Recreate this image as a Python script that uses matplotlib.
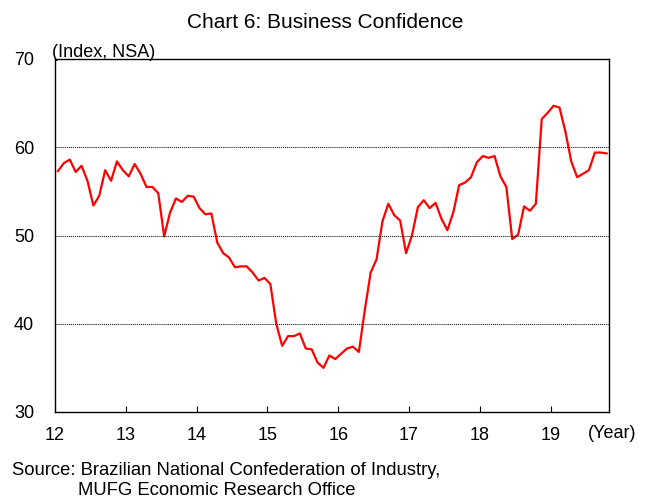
import numpy as np
import matplotlib
matplotlib.use("Agg")
import matplotlib.pyplot as plt

plt.rcParams['font.family'] = ['Liberation Sans', 'DejaVu Sans']

# monthly index, Jan 2012 - Oct 2019
confidence = [
    57.3, 58.2, 58.6, 57.2, 57.9, 56.2, 53.4, 54.5, 57.4, 56.2, 58.4, 57.4,
    56.7, 58.1, 57.0, 55.5, 55.5, 54.8, 49.9, 52.6, 54.2, 53.8, 54.5, 54.4,
    53.1, 52.4, 52.5, 49.2, 48.0, 47.5, 46.4, 46.5, 46.5, 45.8, 44.9, 45.2,
    44.5, 40.0, 37.5, 38.6, 38.6, 38.9, 37.2, 37.1, 35.6, 35.0, 36.4, 36.0,
    36.6, 37.2, 37.4, 36.8, 41.5, 45.8, 47.3, 51.6, 53.6, 52.3, 51.7, 48.0,
    50.0, 53.2, 54.0, 53.1, 53.7, 51.9, 50.6, 52.6, 55.7, 56.0, 56.6, 58.3,
    59.0, 58.8, 59.0, 56.7, 55.5, 49.6, 50.1, 53.3, 52.8, 53.6, 63.2, 63.9,
    64.7, 64.5, 61.8, 58.4, 56.6, 57.0, 57.4, 59.4, 59.4, 59.3,
]
year_labels = ["12", "13", "14", "15", "16", "17", "18", "19"]
y_ticks = [30, 40, 50, 60, 70]

fig = plt.figure(figsize=(6.51, 5.0), dpi=100)
ax = fig.add_axes([0.0845, 0.176, 0.851, 0.706])

months = np.arange(len(confidence))
ax.plot(months, confidence, color="#ff0000", lw=1.6)

ax.set_xlim(-0.5, 93.4)
ax.set_ylim(30, 70)
ax.set_xticks([-0.5 + 12 * k for k in range(len(year_labels))])
ax.set_xticklabels(year_labels)
ax.set_yticks(y_ticks)
ax.tick_params(axis="x", direction="in", length=4, width=0.8, pad=11, labelsize=13)
ax.tick_params(axis="y", direction="in", length=0, pad=15, labelsize=13)

for v in [40, 50, 60]:
    ax.axhline(v, color="black", lw=0.7, ls=(0, (1, 1)))

for sp in ax.spines.values():
    sp.set_linewidth(1.0)
    sp.set_color("black")

fig.text(0.5, 0.944, "Chart 6: Business Confidence", ha="center", va="baseline", fontsize=15)
fig.text(0.08, 0.886, "(Index, NSA)", ha="left", va="baseline", fontsize=13)
fig.text(0.903, 0.134, "(Year)", ha="left", va="center", fontsize=13)
fig.text(0.018, 0.05, "Source: Brazilian National Confederation of Industry,", ha="left",
         va="baseline", fontsize=13.3)
fig.text(0.12, 0.01, "MUFG Economic Research Office", ha="left", va="baseline", fontsize=13.3)

fig.savefig("out.png", dpi=100)
